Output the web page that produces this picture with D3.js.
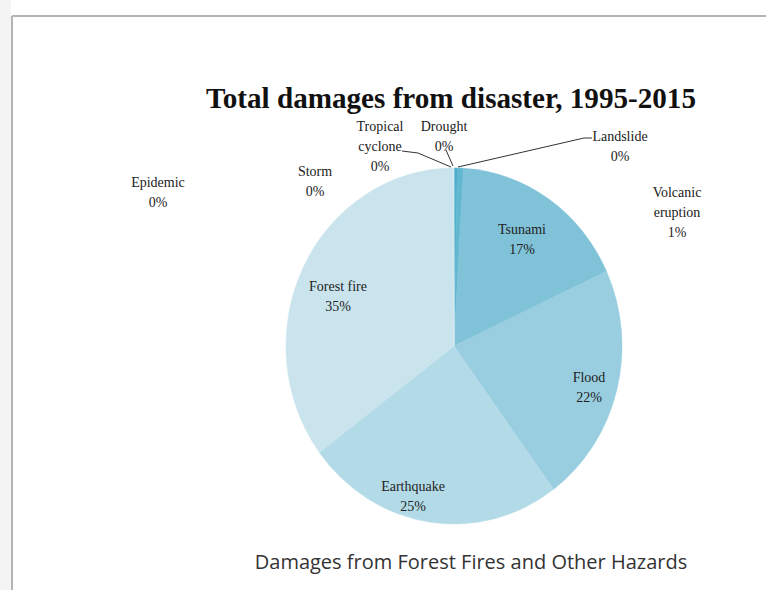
<!DOCTYPE html>
<html>
<head>
<meta charset="utf-8">
<script src="https://cdn.jsdelivr.net/npm/d3@7"></script>
<style>
  body { margin: 0; background: #fff; }
  svg { display: block; }
</style>
</head>
<body>
<svg id="chart" width="766" height="590"></svg>
<script>
// slices clockwise from 12 o'clock
var categories = ['Drought', 'Landslide', 'Volcanic eruption', 'Tsunami', 'Flood',
  'Earthquake', 'Forest fire', 'Storm', 'Epidemic', 'Tropical cyclone'];
var values = [0.2, 0.1, 0.6, 17.2, 21.8, 24.9, 35.1, 0.04, 0.03, 0.03];
var pctLabels = ['0%', '0%', '1%', '17%', '22%', '25%', '35%', '0%', '0%', '0%'];
var colors = ['#4fb0cc', '#45a9c7', '#63b8d1', '#80c2d8', '#98cee0',
  '#b2dae7', '#c9e4ed', '#d3e9f1', '#d3e9f1', '#d3e9f1'];

var title = 'Total damages from disaster, 1995-2015';
var caption = 'Damages from Forest Fires and Other Hazards';

// label layout (text lines + anchor)
var labelLayout = {
  'Drought': {x: 444, y: 131, lines: ['Drought']},
  'Landslide': {x: 620, y: 141, lines: ['Landslide']},
  'Volcanic eruption': {x: 677, y: 197, lines: ['Volcanic', 'eruption']},
  'Tsunami': {x: 522, y: 234, lines: ['Tsunami']},
  'Flood': {x: 589, y: 382, lines: ['Flood']},
  'Earthquake': {x: 413, y: 491, lines: ['Earthquake']},
  'Forest fire': {x: 338, y: 291, lines: ['Forest fire']},
  'Storm': {x: 315, y: 176, lines: ['Storm']},
  'Epidemic': {x: 158, y: 187, lines: ['Epidemic']},
  'Tropical cyclone': {x: 380, y: 131, lines: ['Tropical', 'cyclone']}
};

var svg = d3.select('#chart');
var cx = 454, cy = 346, rx = 168, ry = 178;

// page frame
svg.append('rect').attr('x', 0).attr('y', 0).attr('width', 11).attr('height', 590).attr('fill', '#f4f4f4');
svg.append('line').attr('x1', 12).attr('x2', 12).attr('y1', 16).attr('y2', 590)
  .attr('stroke', '#b4b4b4').attr('stroke-width', 2);
svg.append('line').attr('x1', 12).attr('x2', 766).attr('y1', 16).attr('y2', 16)
  .attr('stroke', '#b4b4b4').attr('stroke-width', 2);

svg.append('text').attr('x', 451).attr('y', 108)
  .attr('text-anchor', 'middle')
  .attr('textLength', 490).attr('lengthAdjust', 'spacingAndGlyphs')
  .style('font-family', '"Liberation Serif", "Times New Roman", serif')
  .style('font-weight', 'bold').style('font-size', '30px').attr('fill', '#111')
  .text(title);

var data = categories.map(function(c, i) {
  return {name: c, value: values[i], pct: pctLabels[i], color: colors[i]};
});

var pie = d3.pie().sort(null).value(function(d) { return d.value; });
var arc = d3.arc().innerRadius(0).outerRadius(rx);

var g = svg.append('g')
  .attr('transform', 'translate(' + cx + ',' + cy + ') scale(1,' + (ry / rx) + ')');
g.selectAll('path').data(pie(data)).enter().append('path')
  .attr('d', arc)
  .attr('fill', function(d) { return d.data.color; })
  .attr('stroke', function(d) { return d.data.color; })
  .attr('stroke-width', 0.5);

// leader lines
var leaders = [
  [[402, 151], [418, 153], [451, 167]],
  [[446, 150], [453, 166]],
  [[458, 167], [584, 138], [592, 138]]
];
svg.selectAll('.leader').data(leaders).enter().append('path')
  .attr('class', 'leader')
  .attr('d', d3.line())
  .attr('fill', 'none').attr('stroke', '#333').attr('stroke-width', 1);

var labels = svg.selectAll('.lbl').data(data).enter().append('text')
  .attr('class', 'lbl')
  .attr('text-anchor', 'middle')
  .style('font-family', '"Liberation Serif", "Times New Roman", serif')
  .style('font-size', '14px').attr('fill', '#222')
  .attr('x', function(d) { return labelLayout[d.name].x; })
  .attr('y', function(d) { return labelLayout[d.name].y; });

labels.each(function(d) {
  var t = d3.select(this);
  var lay = labelLayout[d.name];
  lay.lines.concat([d.pct]).forEach(function(line, i) {
    t.append('tspan').attr('x', lay.x).attr('dy', i === 0 ? 0 : 20).text(line);
  });
});

svg.append('text').attr('x', 471).attr('y', 569)
  .attr('text-anchor', 'middle')
  .style('font-family', '"Open Sans", "Noto Sans", sans-serif')
  .style('font-size', '20px').attr('fill', '#333')
  .text(caption);
</script>
</body>
</html>
